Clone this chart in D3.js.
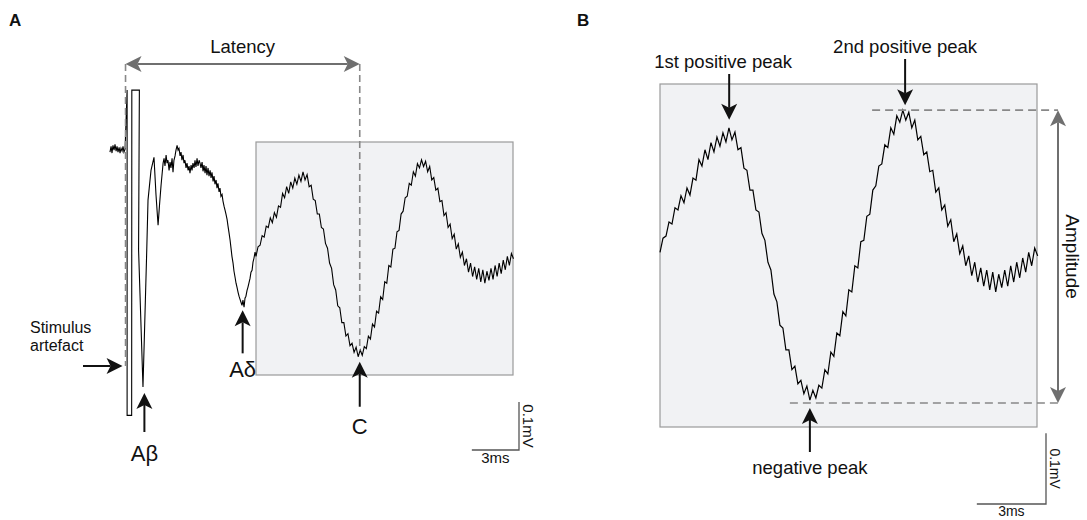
<!DOCTYPE html>
<html><head><meta charset="utf-8">
<script src="https://cdn.jsdelivr.net/npm/d3@7"></script>
<style>
body{margin:0;background:#fff}
svg{display:block}
text{font-family:Arial,"Liberation Sans",Helvetica,sans-serif;fill:#111}
</style>
</head><body>
<svg id="chart" width="1087" height="520"></svg>
<script>
// ---- data (time in ms, potential in µV) ----
const earlyTrace = [
  [-0.99,-4],[-0.92,8],[-0.86,-6],[-0.80,10],[-0.73,0],[-0.67,12],[-0.60,-2],[-0.54,8],
  [-0.48,-4],[-0.41,6],[-0.35,-6],[-0.29,4],[-0.22,-2],[-0.16,8],[-0.10,-4],[-0.03,2],
  [0.10,125],[0.10,-552],[0.39,-552],[0.40,125],[0.88,125],[0.83,-208],[1.11,-493],
  [1.35,-208],[1.43,-104],[1.62,-42],[1.81,-15],[1.94,-94],[2.07,-156],[2.16,-115],
  [2.26,-73],[2.39,-27],
  [2.45,-17],[2.51,-33],[2.58,-10],[2.64,-27],[2.70,-21],[2.77,-42],[2.83,-25],[2.89,-37],
  [2.96,-17],[3.02,-46],[3.08,-21],[3.15,-12],[3.21,0],[3.28,10],[3.34,0],[3.40,4],
  [3.47,-12],[3.53,-4],[3.59,-21],[3.66,-10],[3.72,-27],[3.78,-21],[3.85,-37],[3.91,-27],
  [3.98,-42],[4.04,-33],[4.10,-48],[4.17,-31],[4.23,-42],[4.29,-27],[4.36,-37],[4.42,-21],
  [4.48,-35],[4.55,-17],[4.61,-33],[4.68,-21],[4.74,-27],[4.80,-37],[4.87,-25],[4.93,-44],
  [4.99,-31],[5.06,-48],[5.12,-33],[5.18,-52],[5.25,-37],[5.31,-54],[5.38,-42],[5.44,-58],
  [5.50,-46],[5.57,-65],[5.63,-54],[5.69,-71],[5.76,-62],[5.82,-79],[5.88,-69],[5.95,-87],
  [6.01,-79],[6.07,-96],[6.14,-92],[6.20,-106],[6.27,-117],[6.33,-125],[6.39,-133],[6.46,-144],
  [6.52,-158],[6.58,-171],[6.65,-187],[6.71,-204],[6.77,-221],[6.84,-235],[6.90,-252],[6.97,-265],
  [7.03,-277],[7.09,-285],[7.16,-296],[7.22,-304],[7.28,-310],[7.35,-317],[7.41,-323],[7.47,-312],
  [7.54,-327],[7.60,-308],[7.66,-304],[7.73,-292],[7.79,-285],[7.86,-275],[7.92,-267],[7.98,-254],
  [8.05,-250],[8.11,-233],[8.17,-225],[8.24,-212]
];
const cTraceStartMs = 8.30;
const cTraceStepMs = 0.13;
const cTraceUv = [
  -221,-201,-198,-178,-181,-158,-161,-141,-151,-130,
  -140,-116,-119,-90,-99,-76,-90,-66,-79,-58,
  -71,-52,-65,-45,-62,-51,-76,-73,-102,-105,
  -133,-133,-161,-164,-194,-204,-235,-246,-280,-291,
  -324,-328,-359,-359,-387,-382,-407,-402,-421,-410,
  -430,-416,-427,-409,-413,-387,-393,-362,-368,-335,
  -339,-305,-311,-274,-277,-240,-243,-206,-204,-170,
  -167,-133,-127,-99,-96,-69,-73,-45,-54,-28,
  -37,-20,-34,-23,-45,-34,-62,-57,-83,-79,
  -107,-105,-136,-130,-161,-154,-184,-175,-206,-195,
  -223,-212,-240,-226,-254,-235,-263,-243,-269,-246,
  -274,-249,-277,-252,-271,-246,-269,-240,-263,-235,
  -257,-229,-249,-221,-240,-215,-226
];
const boxTimeMs = [8.3, 24.65];
const boxVoltUv = [-468, 17];
const latencyMs = 14.9;
const abetaPeak = [1.2, -493];
const adeltaPeak = [7.45, -323];
const cPeak = [14.9, -430];
const firstPosPeak = [11.3, -45];
const secondPosPeak = [18.93, -20];
const negativePeak = [14.8, -434];
const scaleBarMs = 3;
const scaleBarUv = 100;
const labelsA = {latency:"Latency", stim:["Stimulus","artefact"], abeta:"Aβ", adelta:"Aδ", c:"C"};
const labelsB = {p1:"1st positive peak", p2:"2nd positive peak", neg:"negative peak", amp:"Amplitude"};
const scaleLabels = {t:"3ms", v:"0.1mV"};
const cTrace = cTraceUv.map((v,i)=>[cTraceStartMs + i*cTraceStepMs, v]);

// ---- drawing ----
const svg = d3.select("#chart");
const GREY = "#6f6f6f";

function arrowHead(g, x, y, angle, color){
  g.append("path")
    .attr("d","M0,0 L-16,-8 L-12,0 L-16,8 Z")
    .attr("transform",`translate(${x},${y}) rotate(${angle})`)
    .attr("fill",color);
}
function arrow(g, x1, y1, x2, y2, color, w){
  const ang = Math.atan2(y2-y1, x2-x1)*180/Math.PI;
  const dx = Math.cos(ang*Math.PI/180)*12, dy = Math.sin(ang*Math.PI/180)*12;
  g.append("line").attr("x1",x1).attr("y1",y1).attr("x2",x2-dx).attr("y2",y2-dy)
    .attr("stroke",color).attr("stroke-width",w||2);
  arrowHead(g, x2, y2, ang, color);
}
function panel(boxPx){
  const x = d3.scaleLinear().domain(boxTimeMs).range([boxPx.left, boxPx.right]);
  const y = d3.scaleLinear().domain(boxVoltUv).range([boxPx.bottom, boxPx.top]);
  return {x, y};
}
function scaleBar(g, P, cx, cy, fs){
  const lx = P.x(scaleBarMs) - P.x(0);
  const ly = P.y(0) - P.y(scaleBarUv);
  g.append("path").attr("d",`M${cx-lx},${cy} L${cx},${cy} L${cx},${cy-ly}`)
    .attr("fill","none").attr("stroke","#555").attr("stroke-width",1.3);
  g.append("text").attr("x",cx-lx/2).attr("y",cy+fs-2).attr("text-anchor","middle")
    .attr("font-size",fs).text(scaleLabels.t);
  g.append("text").attr("transform",`translate(${cx+4},${cy-ly/2}) rotate(90)`)
    .attr("text-anchor","middle").attr("font-size",fs).text(scaleLabels.v);
}

// Panel A
const A = panel({left:256, right:513, top:142, bottom:375});
const gA = svg.append("g");
gA.append("rect")
  .attr("x", A.x(boxTimeMs[0])).attr("y", A.y(boxVoltUv[1]))
  .attr("width", A.x(boxTimeMs[1]) - A.x(boxTimeMs[0]))
  .attr("height", A.y(boxVoltUv[0]) - A.y(boxVoltUv[1]))
  .attr("fill","#f1f2f4").attr("stroke","#9a9a9a").attr("stroke-width",1.2);
const lineA = d3.line().x(d=>A.x(d[0])).y(d=>A.y(d[1]));
gA.append("path").datum(earlyTrace.concat(cTrace))
  .attr("d", lineA).attr("fill","none").attr("stroke","#000")
  .attr("stroke-width",1.1).attr("stroke-linejoin","miter");

const latY = 64;
gA.append("line").attr("x1",A.x(0)).attr("x2",A.x(0)).attr("y1",latY).attr("y2",366)
  .attr("stroke","#888").attr("stroke-width",1.6).attr("stroke-dasharray","7,4");
gA.append("line").attr("x1",A.x(latencyMs)).attr("x2",A.x(latencyMs)).attr("y1",latY).attr("y2",A.y(cPeak[1])-6)
  .attr("stroke","#888").attr("stroke-width",1.6).attr("stroke-dasharray","7,4");
gA.append("line").attr("x1",A.x(0)+12).attr("x2",A.x(latencyMs)-12).attr("y1",latY).attr("y2",latY)
  .attr("stroke",GREY).attr("stroke-width",2);
arrowHead(gA, A.x(0), latY, 180, GREY);
arrowHead(gA, A.x(latencyMs), latY, 0, GREY);
gA.append("text").attr("x",(A.x(0)+A.x(latencyMs))/2).attr("y",latY-11)
  .attr("text-anchor","middle").attr("font-size",18.5).text(labelsA.latency);

arrow(gA, 83, 366, A.x(0)-3, 366, "#111", 2);
gA.append("text").attr("x",30).attr("y",333).attr("font-size",16).text(labelsA.stim[0]);
gA.append("text").attr("x",30).attr("y",351).attr("font-size",16).text(labelsA.stim[1]);

arrow(gA, A.x(abetaPeak[0]), A.y(abetaPeak[1])+45, A.x(abetaPeak[0]), A.y(abetaPeak[1])+6, "#111", 2);
gA.append("text").attr("x",A.x(abetaPeak[0])).attr("y",A.y(abetaPeak[1])+74)
  .attr("text-anchor","middle").attr("font-size",22).text(labelsA.abeta);
arrow(gA, A.x(adeltaPeak[0]), A.y(adeltaPeak[1])+48, A.x(adeltaPeak[0]), A.y(adeltaPeak[1])+5, "#111", 2);
gA.append("text").attr("x",A.x(adeltaPeak[0])).attr("y",A.y(adeltaPeak[1])+72)
  .attr("text-anchor","middle").attr("font-size",22).text(labelsA.adelta);
arrow(gA, A.x(cPeak[0]), A.y(cPeak[1])+50, A.x(cPeak[0]), A.y(cPeak[1])+5, "#111", 2);
gA.append("text").attr("x",A.x(cPeak[0])).attr("y",A.y(cPeak[1])+77)
  .attr("text-anchor","middle").attr("font-size",22).text(labelsA.c);

scaleBar(gA, A, 519, 450, 15);
svg.append("text").attr("x",9).attr("y",26).attr("font-size",17).attr("font-weight","bold").text("A");

// Panel B
const B = panel({left:660, right:1037, top:84, bottom:427});
const gB = svg.append("g");
gB.append("rect")
  .attr("x", B.x(boxTimeMs[0])).attr("y", B.y(boxVoltUv[1]))
  .attr("width", B.x(boxTimeMs[1]) - B.x(boxTimeMs[0]))
  .attr("height", B.y(boxVoltUv[0]) - B.y(boxVoltUv[1]))
  .attr("fill","#f1f2f4").attr("stroke","#9a9a9a").attr("stroke-width",1.2);
const lineB = d3.line().x(d=>B.x(d[0])).y(d=>B.y(d[1]));
gB.append("path").datum(cTrace).attr("d", lineB).attr("fill","none")
  .attr("stroke","#000").attr("stroke-width",1.2);

const ampX = 1058;
gB.append("line").attr("x1",B.x(secondPosPeak[0])-33).attr("x2",ampX).attr("y1",B.y(secondPosPeak[1])).attr("y2",B.y(secondPosPeak[1]))
  .attr("stroke","#888").attr("stroke-width",1.6).attr("stroke-dasharray","8,5");
gB.append("line").attr("x1",B.x(negativePeak[0])-20).attr("x2",ampX).attr("y1",B.y(negativePeak[1])).attr("y2",B.y(negativePeak[1]))
  .attr("stroke","#888").attr("stroke-width",1.6).attr("stroke-dasharray","8,5");
gB.append("line").attr("x1",ampX).attr("x2",ampX).attr("y1",B.y(secondPosPeak[1])+12).attr("y2",B.y(negativePeak[1])-12)
  .attr("stroke",GREY).attr("stroke-width",2);
arrowHead(gB, ampX, B.y(secondPosPeak[1]), -90, GREY);
arrowHead(gB, ampX, B.y(negativePeak[1]), 90, GREY);
gB.append("text").attr("transform",`translate(${ampX+8},${(B.y(secondPosPeak[1])+B.y(negativePeak[1]))/2}) rotate(90)`)
  .attr("text-anchor","middle").attr("font-size",19).text(labelsB.amp);

arrow(gB, B.x(firstPosPeak[0]), 74, B.x(firstPosPeak[0]), B.y(firstPosPeak[1])-8, "#111", 2);
gB.append("text").attr("x",B.x(firstPosPeak[0])-6).attr("y",68).attr("text-anchor","middle")
  .attr("font-size",18.5).text(labelsB.p1);
arrow(gB, B.x(secondPosPeak[0]), 59, B.x(secondPosPeak[0]), B.y(secondPosPeak[1])-5, "#111", 2);
gB.append("text").attr("x",B.x(secondPosPeak[0])).attr("y",53).attr("text-anchor","middle")
  .attr("font-size",18.5).text(labelsB.p2);
arrow(gB, B.x(negativePeak[0]), 452, B.x(negativePeak[0]), B.y(negativePeak[1])+5, "#111", 2);
gB.append("text").attr("x",B.x(negativePeak[0])).attr("y",474).attr("text-anchor","middle")
  .attr("font-size",18.5).text(labelsB.neg);

scaleBar(gB, B, 1046, 504, 14);
svg.append("text").attr("x",577).attr("y",26).attr("font-size",17).attr("font-weight","bold").text("B");
</script>
</body></html>
